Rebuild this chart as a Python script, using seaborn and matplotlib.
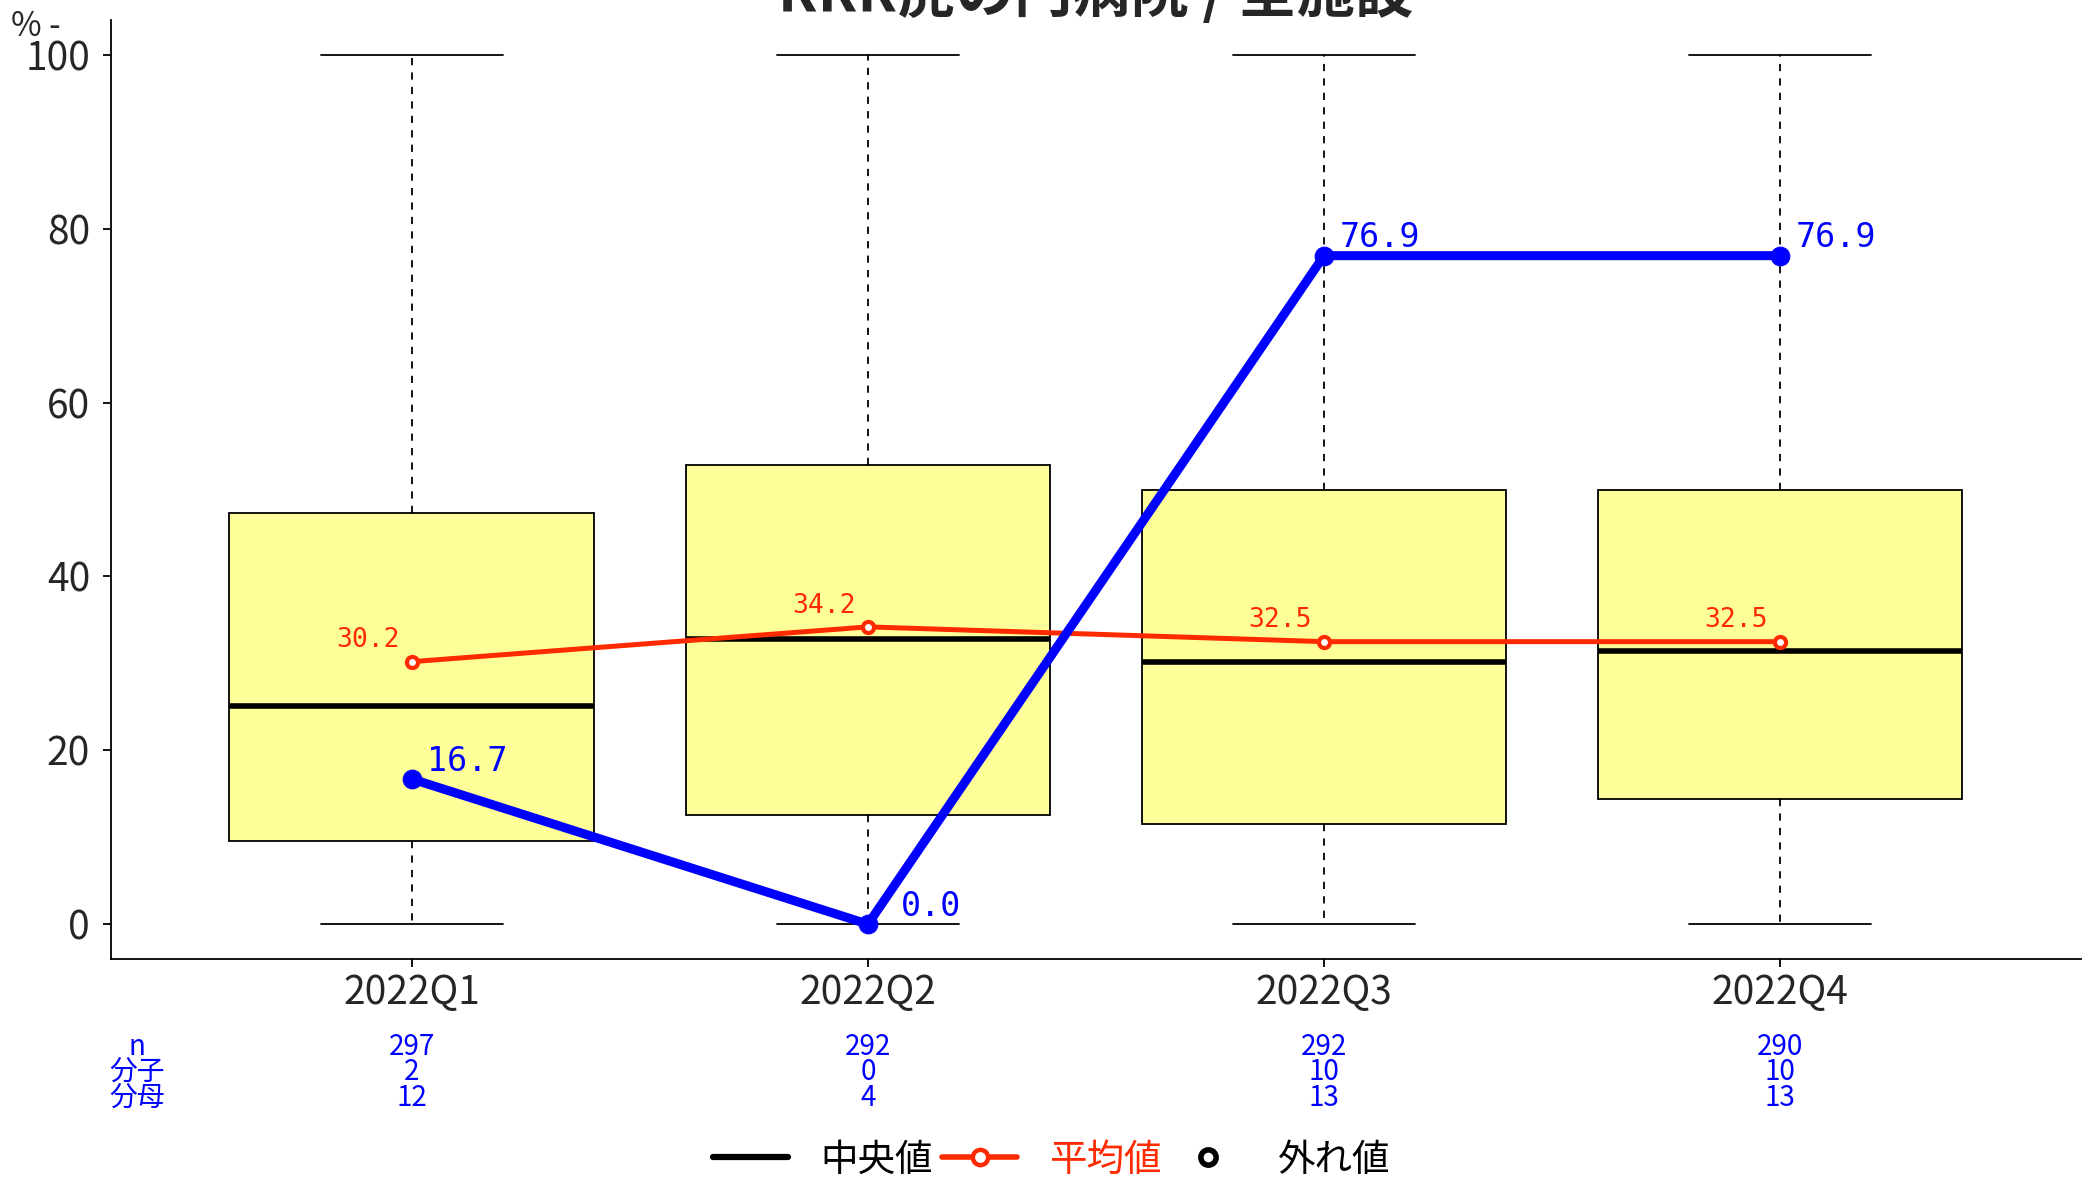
import numpy as np
import pandas as pd
import matplotlib
matplotlib.use("Agg")
import matplotlib.pyplot as plt
from matplotlib.lines import Line2D
import seaborn as sns

quarters = ["2022Q1", "2022Q2", "2022Q3", "2022Q4"]
# box summary per quarter (min, q1, median, q3, max)
box_min = [0.0, 0.0, 0.0, 0.0]
box_q1 = [9.6, 12.6, 11.5, 14.4]
box_med = [25.1, 32.8, 30.2, 31.4]
box_q3 = [47.3, 52.8, 49.9, 49.9]
box_max = [100.0, 100.0, 100.0, 100.0]
mean_vals = [30.2, 34.2, 32.5, 32.5]
hosp_vals = [16.7, 0.0, 76.9, 76.9]
n_vals = [297, 292, 292, 290]
num_vals = [2, 0, 10, 10]
den_vals = [12, 4, 13, 13]
title = "RRR虎の門病院 / 全施設"

BLUE = "#0000FF"
RED = "#FF2A00"
SANS = ["Noto Sans CJK JP", "DejaVu Sans"]
MONO = ["DejaVu Sans Mono"]

sns.set_style("ticks")
plt.rcParams["font.family"] = SANS

# five values per quarter -> numpy quartiles equal the read box stats
rows = []
for i, q in enumerate(quarters):
    for v in (box_min[i], box_q1[i], box_med[i], box_q3[i], box_max[i]):
        rows.append({"quarter": q, "value": v})
df = pd.DataFrame(rows)

fig = plt.figure(figsize=(20.89, 11.81), dpi=100)
ax = fig.add_axes([0.0531, 0.188, 0.9431, 0.795])

sns.boxplot(data=df, x="quarter", y="value", order=quarters, ax=ax,
            whis=np.inf, width=0.8, color="#FFFF99", saturation=1,
            linecolor="black", linewidth=1.3,
            medianprops={"linewidth": 4, "color": "black"},
            whiskerprops={"linestyle": (0, (4, 4)), "linewidth": 1.3},
            capprops={"linewidth": 1.3})

pos = np.arange(len(quarters))
sns.lineplot(x=pos, y=mean_vals, ax=ax, color=RED, linewidth=3.6,
             marker="o", markersize=8, markerfacecolor="white",
             markeredgecolor=RED, markeredgewidth=3, zorder=5)
sns.lineplot(x=pos, y=hosp_vals, ax=ax, color=BLUE, linewidth=6.5,
             marker="o", markersize=13.5, markeredgecolor=BLUE, zorder=6)

for x, v in zip(pos, mean_vals):
    ax.annotate(f"{v:.1f}", (x, v), xytext=(-9, 6), textcoords="offset points",
                ha="right", va="bottom", color=RED, fontsize=19, family=MONO)
for x, v in zip(pos, hosp_vals):
    # labels at the floor are pushed clear of the marker
    dx = 24 if v == 0 else 11
    ax.annotate(f"{v:.1f}", (x, v), xytext=(dx, 1), textcoords="offset points",
                ha="left", va="bottom", color=BLUE, fontsize=24, family=MONO)

ax.set_xlim(-0.66, 3.66)
ax.set_ylim(-4, 104)
ax.set_yticks([0, 20, 40, 60, 80, 100])
ax.set_xlabel("")
ax.set_ylabel("")
ax.tick_params(axis="both", labelsize=28, length=6, width=1.3, color="black")
ax.tick_params(axis="x", pad=4)
ax.tick_params(axis="y", pad=9)
for s in ("top", "right"):
    ax.spines[s].set_visible(False)
for s in ("left", "bottom"):
    ax.spines[s].set_linewidth(1.3)
    ax.spines[s].set_color("black")

# count table under the axis
row_y = [1047, 1072, 1098]
row_names = ["n", "分子", "分母"]
row_data = [n_vals, num_vals, den_vals]
for yy, name, vals in zip(row_y, row_names, row_data):
    yf = 1 - yy / 1181
    fig.text(137 / 2089, yf, name, ha="center", va="center", color=BLUE,
             fontsize=20)
    for x, v in zip(pos, vals):
        xf = fig.transFigure.inverted().transform(ax.transData.transform((x, 0)))[0]
        fig.text(xf, yf, str(v), ha="center", va="center", color=BLUE,
                 fontsize=20)

fig.text(0.5245, 1 - 12 / 1181, title, ha="center", va="baseline",
         fontsize=42, fontweight="bold")
fig.text(36 / 2089, 1 - 26 / 1181, "% -", ha="center", va="center",
         fontsize=24)

handles = [
    Line2D([], [], color="black", linewidth=4.5),
    Line2D([], [], color=RED, linewidth=4, marker="o", markersize=11,
           markerfacecolor="white", markeredgecolor=RED, markeredgewidth=3.2),
    Line2D([], [], color="black", linestyle="none", marker="o", markersize=11,
           markerfacecolor="white", markeredgewidth=4),
]
leg = fig.legend(handles, ["中央値", "平均値", "外れ値"], loc="center",
                 bbox_to_anchor=(0.5035, 1 - 1160 / 1181), ncol=3, frameon=False,
                 prop={"family": SANS, "size": 27}, handlelength=2.0,
                 columnspacing=0.25, handletextpad=0.85)
for txt, c in zip(leg.get_texts(), ["black", RED, "black"]):
    txt.set_color(c)

fig.savefig("out.png", dpi=100)
